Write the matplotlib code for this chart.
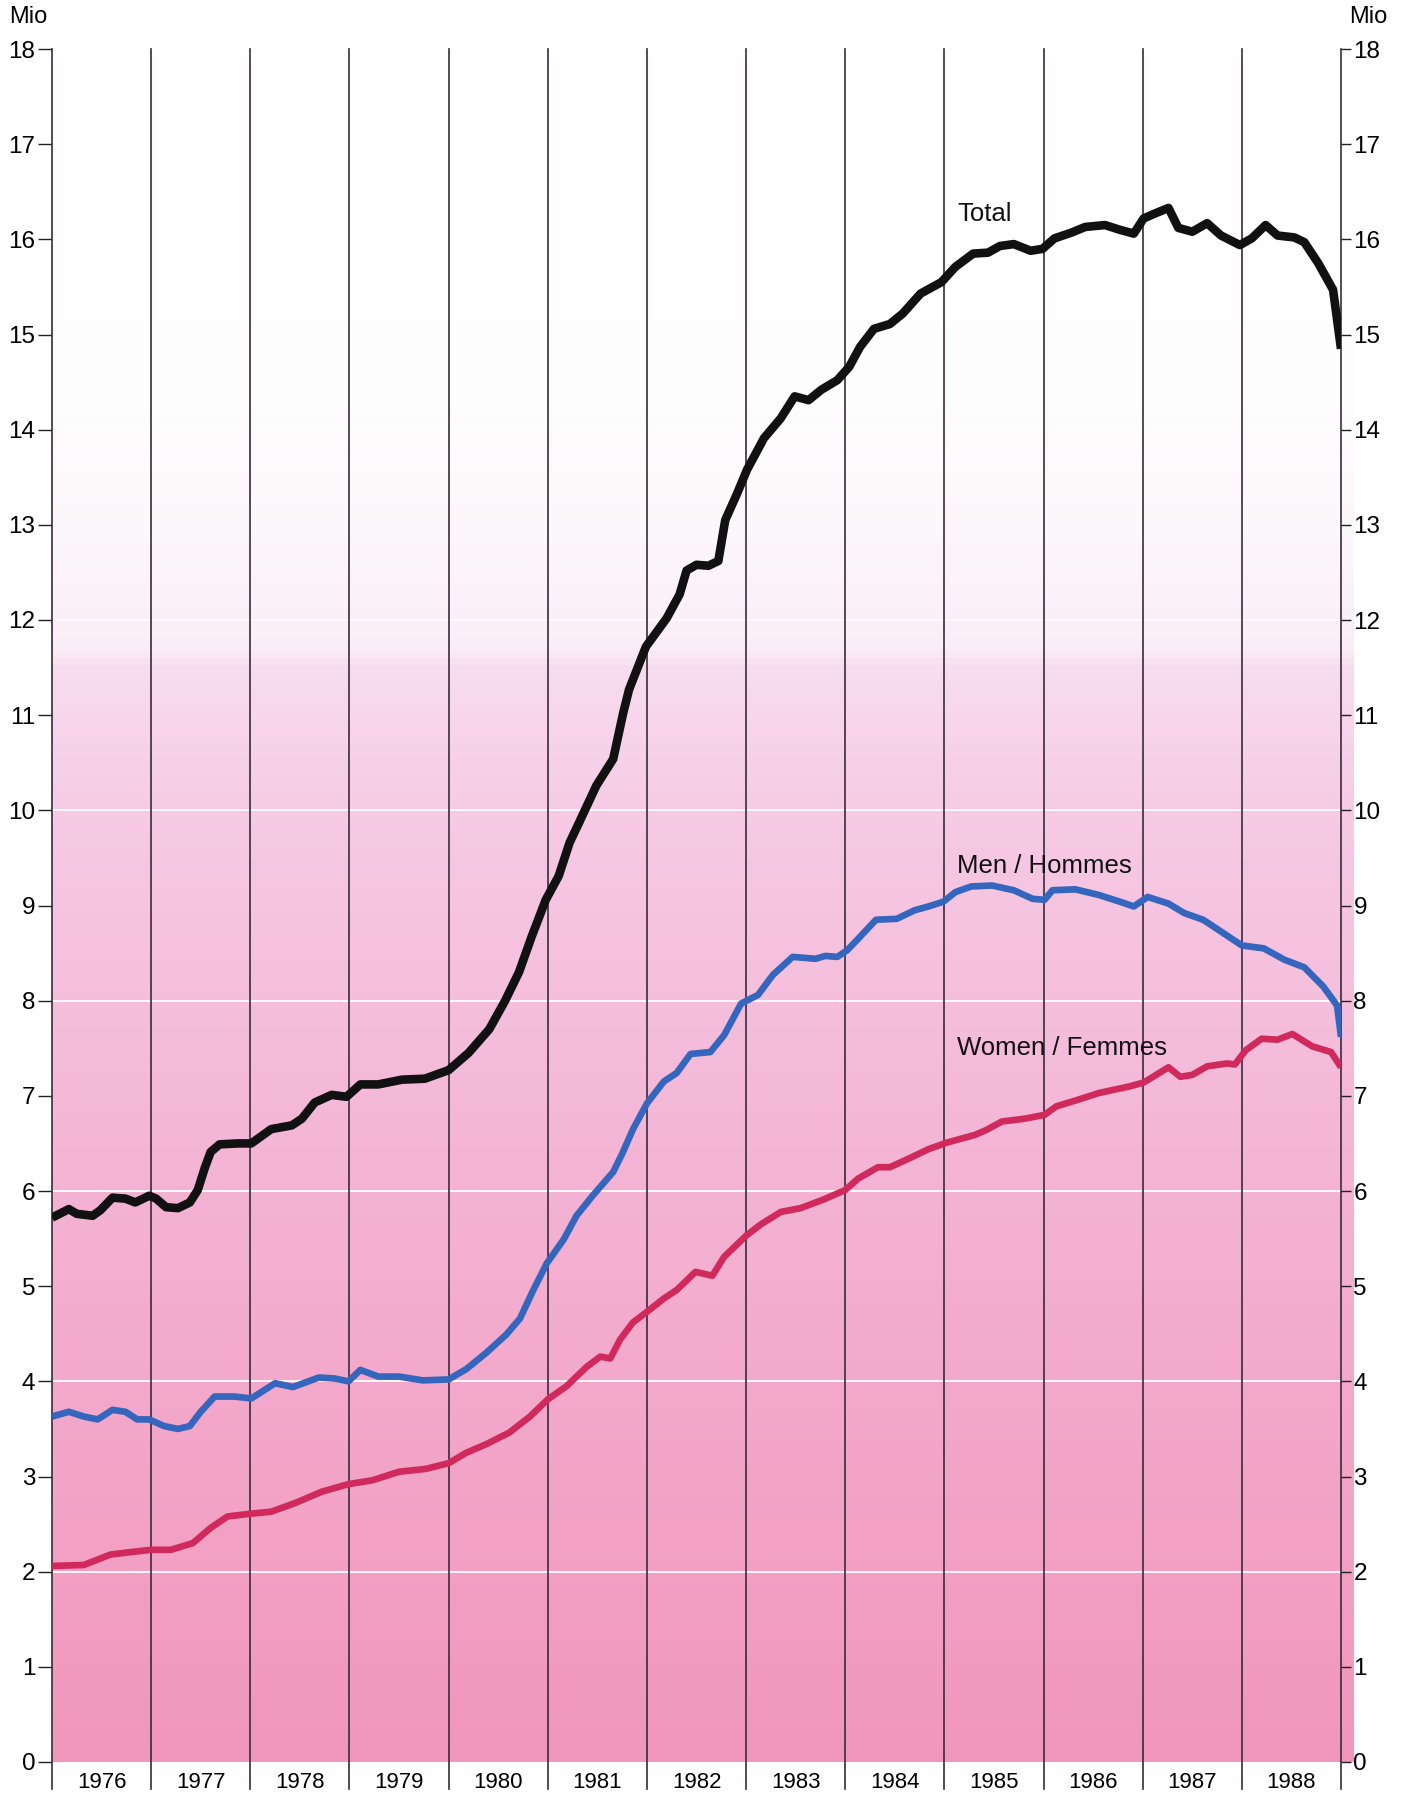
import numpy as np
import matplotlib
matplotlib.use("Agg")
import matplotlib.pyplot as plt
from matplotlib.colors import LinearSegmentedColormap

plt.rcParams['font.family'] = ['Liberation Sans', 'DejaVu Sans']

# --- data (millions, x = years since Jan 1976) ---
years = [1976, 1977, 1978, 1979, 1980, 1981, 1982, 1983, 1984, 1985, 1986, 1987, 1988]

total_x = [0.00, 0.17, 0.25, 0.41, 0.49, 0.61, 0.74, 0.84, 0.98, 1.05, 1.15, 1.27, 1.39, 1.47,
           1.54, 1.60, 1.69, 1.88, 2.01, 2.21, 2.42, 2.52, 2.65, 2.82, 2.97, 3.11, 3.29, 3.53,
           3.76, 4.00, 4.20, 4.41, 4.57, 4.71, 4.84, 4.98, 5.11, 5.22, 5.32, 5.49, 5.66, 5.76,
           5.82, 5.99, 6.20, 6.33, 6.40, 6.50, 6.62, 6.72, 6.79, 6.91, 7.01, 7.18, 7.35, 7.49,
           7.63, 7.76, 7.92, 8.04, 8.15, 8.29, 8.45, 8.58, 8.76, 8.97, 9.11, 9.29, 9.44, 9.56,
           9.70, 9.87, 9.99, 10.11, 10.28, 10.42, 10.62, 10.77, 10.91, 11.01, 11.12, 11.26,
           11.36, 11.50, 11.65, 11.79, 11.98, 12.10, 12.24, 12.36, 12.53, 12.63, 12.77, 12.92,
           13.00]
total_y = [5.72, 5.81, 5.76, 5.74, 5.80, 5.93, 5.92, 5.88, 5.95, 5.92, 5.83, 5.82, 5.88, 6.01,
           6.24, 6.41, 6.49, 6.50, 6.50, 6.65, 6.69, 6.76, 6.93, 7.01, 6.99, 7.12, 7.12, 7.17,
           7.18, 7.27, 7.45, 7.70, 8.00, 8.30, 8.68, 9.06, 9.31, 9.66, 9.88, 10.26, 10.54, 11.02,
           11.27, 11.72, 12.02, 12.27, 12.52, 12.58, 12.57, 12.62, 13.05, 13.33, 13.58, 13.91,
           14.12, 14.35, 14.31, 14.42, 14.52, 14.66, 14.87, 15.06, 15.11, 15.22, 15.43, 15.55,
           15.71, 15.85, 15.86, 15.93, 15.95, 15.88, 15.90, 16.01, 16.07, 16.13, 16.15, 16.10,
           16.06, 16.22, 16.27, 16.33, 16.12, 16.08, 16.17, 16.04, 15.94, 16.01, 16.15, 16.04,
           16.02, 15.97, 15.75, 15.47, 14.85]

men_x = [0.00, 0.17, 0.32, 0.46, 0.61, 0.74, 0.86, 0.98, 1.13, 1.27, 1.39, 1.50, 1.64, 1.84,
         2.01, 2.25, 2.43, 2.69, 2.85, 2.99, 3.11, 3.29, 3.50, 3.74, 4.00, 4.18, 4.38, 4.58,
         4.72, 4.85, 4.99, 5.16, 5.29, 5.46, 5.66, 5.75, 5.86, 6.00, 6.17, 6.30, 6.44, 6.64,
         6.78, 6.95, 7.12, 7.27, 7.47, 7.70, 7.80, 7.92, 8.02, 8.13, 8.31, 8.52, 8.70, 8.84,
         8.99, 9.11, 9.27, 9.48, 9.70, 9.89, 10.01, 10.09, 10.32, 10.56, 10.77, 10.91, 11.05,
         11.26, 11.42, 11.61, 11.77, 12.00, 12.22, 12.43, 12.63, 12.82, 12.96, 13.00]
men_y = [3.63, 3.68, 3.63, 3.60, 3.70, 3.68, 3.60, 3.60, 3.53, 3.50, 3.53, 3.68, 3.84, 3.84,
         3.82, 3.98, 3.94, 4.04, 4.03, 4.00, 4.12, 4.05, 4.05, 4.01, 4.02, 4.13, 4.30, 4.49,
         4.66, 4.95, 5.24, 5.49, 5.74, 5.96, 6.20, 6.39, 6.65, 6.92, 7.15, 7.24, 7.44, 7.46,
         7.64, 7.97, 8.06, 8.27, 8.46, 8.44, 8.47, 8.46, 8.53, 8.65, 8.85, 8.86, 8.95, 8.99,
         9.04, 9.14, 9.20, 9.21, 9.16, 9.07, 9.06, 9.16, 9.17, 9.11, 9.04, 8.99, 9.09,
         9.02, 8.92, 8.85, 8.74, 8.58, 8.55, 8.43, 8.35, 8.15, 7.95, 7.62]

women_x = [0.00, 0.32, 0.59, 0.83, 1.00, 1.20, 1.42, 1.60, 1.77, 2.01, 2.21, 2.45, 2.72, 2.99,
           3.23, 3.50, 3.77, 4.00, 4.18, 4.38, 4.61, 4.82, 5.00, 5.19, 5.39, 5.53, 5.63, 5.73,
           5.86, 6.00, 6.17, 6.30, 6.49, 6.66, 6.78, 7.00, 7.15, 7.35, 7.55, 7.78, 8.00, 8.13,
           8.33, 8.45, 8.64, 8.84, 9.03, 9.31, 9.42, 9.58, 9.81, 10.01, 10.13, 10.32, 10.56,
           10.87, 11.01, 11.12, 11.26, 11.38, 11.50, 11.65, 11.85, 11.93, 12.04, 12.20, 12.36,
           12.51, 12.71, 12.90, 13.00]
women_y = [2.06, 2.07, 2.18, 2.21, 2.23, 2.23, 2.30, 2.46, 2.58, 2.61, 2.63, 2.72, 2.84, 2.92,
           2.96, 3.05, 3.08, 3.14, 3.25, 3.34, 3.46, 3.63, 3.81, 3.95, 4.15, 4.26, 4.24, 4.44,
           4.62, 4.73, 4.87, 4.96, 5.15, 5.11, 5.31, 5.53, 5.65, 5.78, 5.82, 5.91, 6.01, 6.13,
           6.25, 6.25, 6.34, 6.44, 6.51, 6.59, 6.64, 6.73, 6.76, 6.80, 6.89, 6.95, 7.03,
           7.10, 7.14, 7.21, 7.30, 7.20, 7.22, 7.31, 7.34, 7.33, 7.48, 7.60, 7.59,
           7.65, 7.52, 7.46, 7.30]

# --- figure ---
fig = plt.figure(figsize=(14.03, 17.96), dpi=100)
ax = fig.add_axes([52 / 1403, 1 - 1762 / 1796, (1341 - 52) / 1403, (1762 - 49) / 1796])
x0, x1 = years[0], years[-1] + 1

# pink background, fading to white near the top
stops = [(0.0, (0.945, 0.590, 0.735)), (0.11, (0.950, 0.625, 0.765)),
         (0.33, (0.957, 0.700, 0.830)), (0.55, (0.965, 0.790, 0.900)),
         (0.64, (0.972, 0.865, 0.940)), (0.65, (0.982, 0.930, 0.968)),
         (0.72, (0.988, 0.970, 0.982)), (0.80, (0.995, 0.995, 0.995)),
         (1.0, (1.0, 1.0, 1.0))]
cmap = LinearSegmentedColormap.from_list('bg', stops)
grad = np.linspace(0, 1, 512).reshape(-1, 1)
ax.imshow(grad, cmap=cmap, aspect='auto', origin='lower',
          extent=[x0, x1 + 0.13, 0, 18], clip_on=False, zorder=0)
ax.set_xlim(x0, x1)
ax.set_ylim(0, 18)

for v in range(2, 19, 2):
    ax.axhline(v, color='white', lw=1.3, zorder=1)

for yr in range(x0, x1 + 1):
    ax.axvline(yr, ymin=-0.016, ymax=1, color='#3b2a3c', lw=1.2, zorder=2, clip_on=False)

for s in ax.spines.values():
    s.set_visible(False)

ax.plot(np.array(total_x) + x0, total_y, color='#111111', lw=6.2, zorder=5,
        solid_joinstyle='round', solid_capstyle='butt')
ax.plot(np.array(men_x) + x0, men_y, color='#3566bd', lw=4.8, zorder=4,
        solid_joinstyle='round', solid_capstyle='butt')
ax.plot(np.array(women_x) + x0, women_y, color='#d02a5c', lw=4.8, zorder=4,
        solid_joinstyle='round', solid_capstyle='butt')

ax.text(x0 + 9.13, 16.27, 'Total', fontsize=18.5, va='center', ha='left', color='#111111')
ax.text(x0 + 9.13, 9.42, 'Men / Hommes', fontsize=18.5, va='center', ha='left', color='#111111')
ax.text(x0 + 9.13, 7.50, 'Women / Femmes', fontsize=18.5, va='center', ha='left', color='#111111')

# year labels centred in each column
ax.set_xticks([y + 0.5 for y in years])
ax.set_xticklabels([str(y) for y in years], fontsize=16)
ax.tick_params(axis='x', length=0, pad=7)

ax.set_yticks(range(0, 19))
ax.tick_params(axis='y', length=10, width=1, color='#222222', labelsize=17.5, pad=2)

axr = ax.twinx()
axr.set_ylim(0, 18)
axr.set_yticks(range(0, 19))
axr.tick_params(axis='y', length=7, width=1, color='#222222', labelsize=17.5, pad=2)
for s in axr.spines.values():
    s.set_visible(False)

fig.text(9 / 1403, 1 - 17 / 1796, 'Mio', fontsize=17, va='center', ha='left')
fig.text(1349 / 1403, 1 - 17 / 1796, 'Mio', fontsize=17, va='center', ha='left')

fig.savefig('out.png', dpi=100, facecolor='white')
plt.close(fig)
